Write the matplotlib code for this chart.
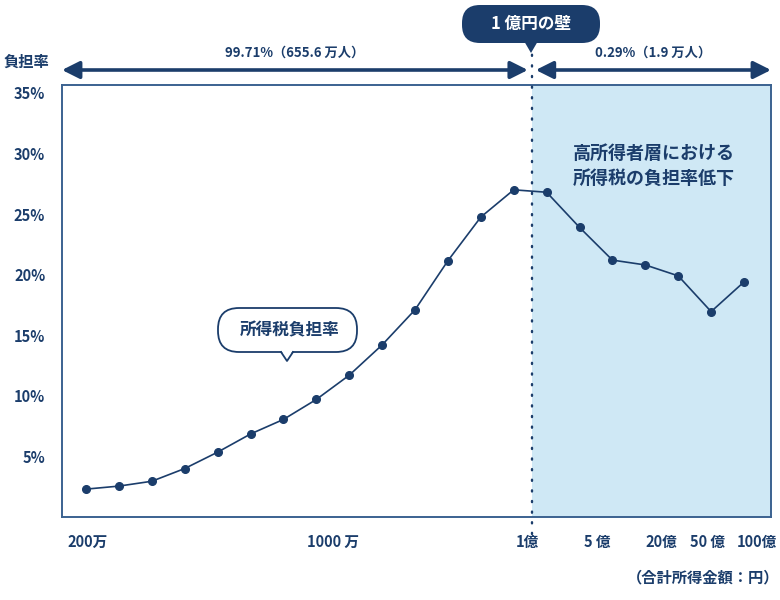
import matplotlib
matplotlib.use("Agg")
import matplotlib.pyplot as plt
import matplotlib.patches as mpatches
import matplotlib.transforms as mtransforms

plt.rcParams['font.family'] = ['Noto Sans CJK JP', 'DejaVu Sans']
plt.rcParams['font.weight'] = 'bold'

# 所得税負担率（%）、所得階級ごと
burden = [2.3, 2.55, 2.95, 4.0, 5.35, 6.85, 8.05, 9.7, 11.7, 14.2, 17.1,
          21.15, 24.75, 27.0, 26.8, 23.9, 21.2, 20.8, 19.9, 16.95, 19.4]
x_labels = ['200万', '1000 万', '1億', '5 億', '20億', '50 億', '100億']
x_label_pos = [0.05, 7.5, 13.4, 15.55, 17.5, 18.9, 20.4]
y_ticks = [5, 10, 15, 20, 25, 30, 35]
wall_pos = 13.55          # 1億円の境界
share_low = '99.71%（655.6 万人）'
share_high = '0.29%（1.9 万人）'

navy = '#1b3d6b'
frame = '#3b6290'
shade = '#cfe8f5'

W, H = 780, 600
fig = plt.figure(figsize=(W / 100, H / 100), dpi=100)
ax = fig.add_axes([62 / W, 1 - 517 / H, (771 - 62) / W, (517 - 85) / H])

# ピクセル座標（左上原点）
px = mtransforms.Affine2D().scale(1 / W, -1 / H).translate(0, 1) + fig.transFigure

xs = list(range(len(burden)))
ax.set_xlim(-0.73, 20.82)
ax.set_ylim(0, 35.65)

ax.axvspan(wall_pos, 20.82, color=shade, lw=0, zorder=0)
ax.plot(xs, burden, color=navy, lw=1.2, marker='o', ms=5.5, zorder=3)

ax.axvline(wall_pos, ymin=-0.04, ymax=1.09, clip_on=False, color=navy,
           lw=1.7, linestyle=(0, (0.5, 4)), dash_capstyle='round', zorder=4)

for s in ax.spines.values():
    s.set_color(frame)
    s.set_linewidth(1.4)

ax.set_yticks(y_ticks)
ax.set_yticklabels([f'{v}%' for v in y_ticks])
ax.set_xticks(x_label_pos)
ax.set_xticklabels(x_labels)
ax.tick_params(axis='y', length=0, pad=12, labelsize=10.5, labelcolor=navy)
ax.tick_params(axis='x', length=0, pad=12, labelsize=10.5, labelcolor=navy)

fig.text(26 / W, 1 - 62 / H, '負担率', ha='center', va='center',
         fontsize=11, color=navy)
fig.text(779 / W, 1 - 577 / H, '（合計所得金額：円）', ha='right', va='center',
         fontsize=11, color=navy)

# 上部の矢印
trans_arrow = mtransforms.blended_transform_factory(ax.transData, ax.transAxes)
ay = 1 + (85 - 70) / 432
for x0, x1, lab in [(-0.73, wall_pos - 0.12, share_low),
                    (wall_pos + 0.12, 20.82, share_high)]:
    arr = mpatches.FancyArrowPatch((x0, ay), (x1, ay), transform=trans_arrow,
                                   arrowstyle='<|-|>,head_length=0.7,head_width=0.35',
                                   mutation_scale=15, color=navy, lw=2.6,
                                   shrinkA=0, shrinkB=0, clip_on=False)
    ax.add_patch(arr)
    ax.text((x0 + x1) / 2, 1 + (85 - 53) / 432, lab, transform=trans_arrow,
            ha='center', va='center', fontsize=9.5, color=navy)

# 「1億円の壁」吹き出し
box = mpatches.FancyBboxPatch((462, 5), 138, 38, boxstyle='round,pad=0,rounding_size=18',
                              transform=px, fc=navy, ec='none')
fig.add_artist(box)
fig.add_artist(mpatches.Polygon([(524, 41), (538, 41), (531, 53)], closed=True,
                                transform=px, fc=navy, ec='none'))
fig.text(531 / W, 1 - 24 / H, '1 億円の壁', ha='center', va='center',
         fontsize=12, color='white')

# 「所得税負担率」吹き出し
box2 = mpatches.FancyBboxPatch((218, 308), 139, 44, boxstyle='round,pad=0,rounding_size=21',
                               transform=px, fc='white', ec=navy, lw=1.3, zorder=5)
fig.add_artist(box2)
fig.add_artist(mpatches.Polygon([(281.5, 351), (292.5, 351), (287, 360)], closed=True,
                                transform=px, fc='white', ec='none', zorder=6))
fig.add_artist(plt.Line2D([281, 287, 293], [352, 361, 352], transform=px,
                          color=navy, lw=1.3, zorder=7))
fig.text(290 / W, 1 - 330 / H, '所得税負担率', ha='center', va='center',
         fontsize=12, color=navy, zorder=8)

ax.text(0.835, 1 - (166 - 85) / 432, '高所得者層における\n所得税の負担率低下',
        transform=ax.transAxes, ha='center', va='center', fontsize=13,
        color=navy, linespacing=1.4)

fig.savefig('out.png', dpi=100)
